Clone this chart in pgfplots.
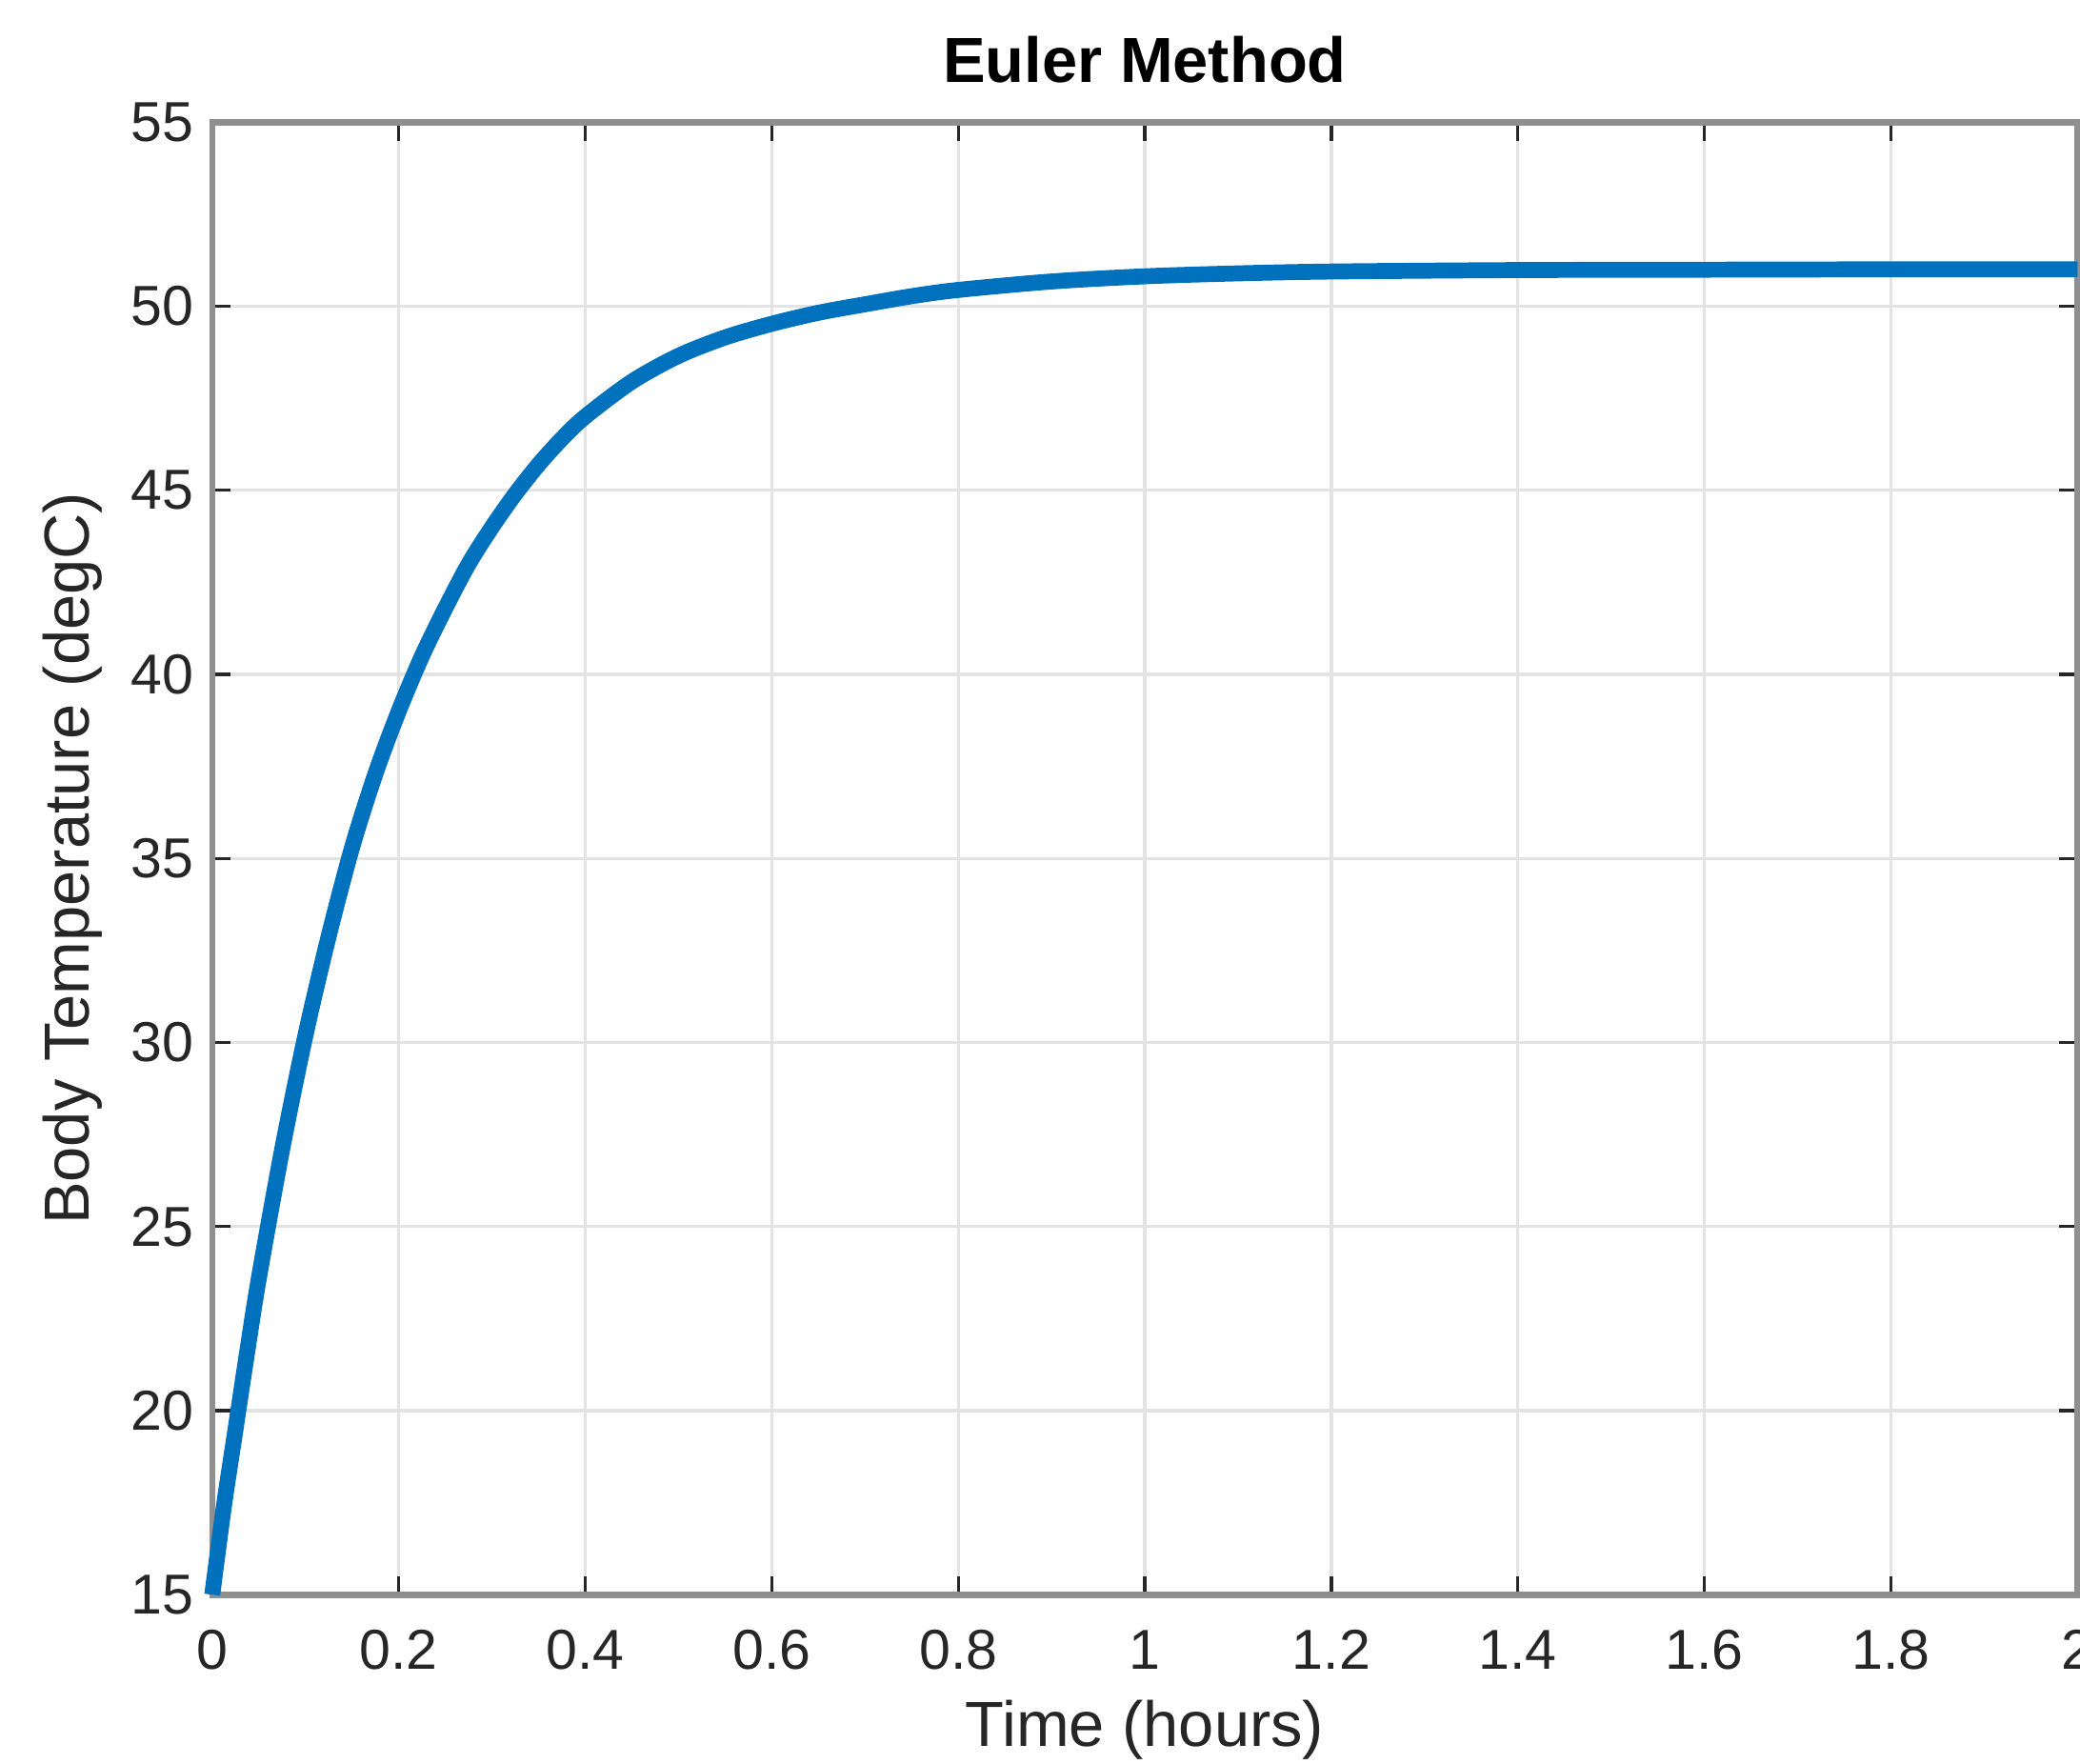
\documentclass[border=0pt]{standalone}
\usepackage{fontspec}
\setmainfont{Liberation Sans}
\usepackage{pgfplots}
\pgfplotsset{compat=1.18}

\definecolor{mblue}{rgb}{0,0.447,0.741}
\definecolor{axgray}{gray}{0.56}
\definecolor{txtgray}{gray}{0.15}
\definecolor{gridgray}{gray}{0.89}

\begin{document}
\begin{tikzpicture}
\begin{axis}[
    scale only axis,
    width=351.5pt, height=277.5pt,
    xmin=0, xmax=2, ymin=15, ymax=55,
    xtick={0,0.2,0.4,0.6,0.8,1,1.2,1.4,1.6,1.8,2},
    ytick={15,20,25,30,35,40,45,50,55},
    grid=major,
    major grid style={gridgray, line width=0.6pt},
    axis line style={axgray, line width=1.2pt},
    tick style={txtgray, line width=0.6pt},
    major tick length=3.5pt,
    tick align=inside,
    /pgf/number format/assume math mode=true,
    ticklabel style={font=\fontsize{10.6}{12}\selectfont, text=txtgray},
    xticklabel style={anchor=base, yshift=-14pt},
    every axis title shift=0pt,
    title={\textbf{Euler Method}},
    title style={at={(axis description cs:0.5,1)}, anchor=base, yshift=7.5pt,
        font=\fontsize{12}{14}\selectfont, text=black},
    xlabel={Time (hours)},
    xlabel style={at={(axis description cs:0.5,0)}, anchor=base, yshift=-28.5pt,
        font=\fontsize{12}{14}\selectfont, text=txtgray},
    ylabel={Body Temperature (degC)},
    ylabel style={at={(axis description cs:-0.06615,0.5)}, anchor=base,
        font=\fontsize{12}{14}\selectfont, text=txtgray},
    clip=false,
]
\addplot[color=mblue, line width=3pt, smooth, tension=0.5] coordinates {
    (0,15.0) (0.0125,17.4) (0.025,19.5) (0.0375,21.6) (0.05,23.6)
    (0.075,27.1) (0.1,30.2) (0.125,32.9) (0.15,35.3) (0.175,37.3)
    (0.2,39.0) (0.225,40.5) (0.25,41.8) (0.275,43.0) (0.3,44.0)
    (0.325,44.9) (0.35,45.7) (0.375,46.4) (0.4,47.0) (0.45,47.95)
    (0.5,48.65) (0.55,49.15) (0.6,49.52) (0.65,49.82) (0.7,50.05)
    (0.75,50.27) (0.8,50.44) (0.9,50.67) (1.0,50.81) (1.1,50.89)
    (1.2,50.94) (1.4,50.98) (1.6,50.99) (1.8,51.0) (2.0,51.0)
};
\coordinate (bl) at (rel axis cs:0,0);
\coordinate (tr) at (rel axis cs:1,1);
\end{axis}
\pgfresetboundingbox
\path[use as bounding box] ([xshift=-40pt,yshift=-31.75pt]bl) rectangle ([xshift=0.5pt,yshift=23pt]tr);
\end{tikzpicture}
\end{document}
